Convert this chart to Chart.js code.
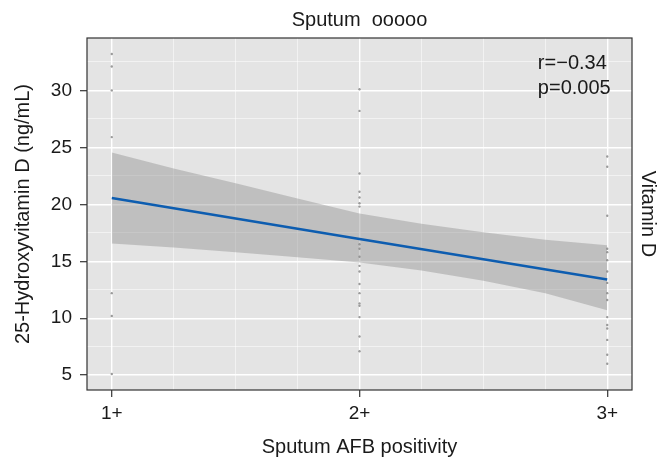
<!DOCTYPE html>
<html>
<head>
<meta charset="utf-8">
<script src="https://cdn.jsdelivr.net/npm/chart.js@4.4.1/dist/chart.umd.min.js"></script>
<style>
    html, body { margin: 0; padding: 0; background: #fff; }
    canvas { display: block; }
</style>
</head>
<body>
<canvas id="chart" width="659" height="459"></canvas>
<script>
// categories on the x axis and where they sit on the numeric scale
const xCategories = ['1+', '2+', '3+'];
const xPositions = [1, 2, 3];

// individual measurements (ng/mL) per AFB grade
const grade1Values = [33.2, 32.1, 30.0, 25.9, 12.2, 10.2, 5.1];
const grade2Values = [30.1, 28.2, 22.7, 21.1, 20.6, 20.1, 19.8, 16.5, 16.1, 15.4, 14.6, 14.1, 13.0, 12.2, 11.3, 11.1, 10.1, 8.4, 7.1];
const grade3Values = [24.2, 23.3, 19.0, 16.1, 15.8, 15.1, 14.1, 13.1, 12.2, 11.6, 10.1, 9.4, 9.1, 8.1, 6.8, 6.0];

// fitted line and its confidence band
const fitX = [1, 2, 3];
const fitY = [20.55, 16.95, 13.4];
const bandX = [1, 1.25, 1.5, 1.75, 2, 2.25, 2.5, 2.75, 3];
const bandUpper = [24.55, 23.15, 21.85, 20.5, 19.2, 18.3, 17.55, 16.9, 16.4];
const bandLower = [16.55, 16.2, 15.8, 15.35, 14.9, 14.2, 13.3, 12.2, 10.7];

// axes
const xRange = [0.9, 3.1];
const yRange = [3.7, 34.6];
const xGridValues = [1, 1.25, 1.5, 1.75, 2, 2.25, 2.5, 2.75, 3];
const yTickValues = [5, 10, 15, 20, 25, 30];
const yGridValues = [5, 7.5, 10, 12.5, 15, 17.5, 20, 22.5, 25, 27.5, 30, 32.5];

// text
const panelTitle = 'Sputum  ooooo';
const stripLabel = 'Vitamin D';
const xTitle = 'Sputum AFB positivity';
const yTitle = '25-Hydroxyvitamin D (ng/mL)';
const statLines = ['r=\u22120.34', 'p=0.005'];
const statAnchorX = 2.72;
const statAnchorY = [31.9, 29.7];

const FONT = "'Liberation Sans', Arial, Helvetica, sans-serif";
const INK = '#1a1a1a';
Chart.defaults.font.family = FONT;
Chart.defaults.color = INK;

const isMajorY = v => yTickValues.includes(v);
const isMajorX = v => xPositions.includes(v);

const points = [grade1Values, grade2Values, grade3Values]
    .flatMap((vals, i) => vals.map(v => ({ x: xPositions[i], y: v })));

const panelPlugin = {
    id: 'panel',
    beforeDraw(chart) {
        const { ctx, chartArea: a } = chart;
        ctx.save();
        ctx.fillStyle = '#e4e4e4';
        ctx.fillRect(a.left, a.top, a.width, a.height);
        ctx.restore();
    },
    afterDraw(chart) {
        const { ctx, chartArea: a, scales } = chart;
        ctx.save();
        ctx.strokeStyle = '#333';
        ctx.lineWidth = 1.2;
        ctx.strokeRect(a.left, a.top, a.width, a.height);
        ctx.fillStyle = INK;
        ctx.font = `20px ${FONT}`;
        ctx.textAlign = 'left';
        ctx.textBaseline = 'alphabetic';
        statLines.forEach((t, i) => {
            ctx.fillText(t, scales.x.getPixelForValue(statAnchorX), scales.y.getPixelForValue(statAnchorY[i]));
        });
        ctx.restore();
    }
};

const gridOpts = isMajor => ({
    color: c => isMajor(c.tick?.value) ? '#ffffff' : 'rgba(255,255,255,0.75)',
    lineWidth: c => isMajor(c.tick?.value) ? 1.4 : 0.7,
    tickColor: c => isMajor(c.tick?.value) ? '#333' : 'rgba(0,0,0,0)',
    tickLength: 7,
    tickWidth: 1.2,
    drawTicks: true
});

new Chart(document.getElementById('chart'), {
    type: 'scatter',
    data: {
        datasets: [
            {
                label: 'fit',
                data: fitX.map((x, i) => ({ x, y: fitY[i] })),
                showLine: true,
                borderColor: '#0d5db0',
                borderWidth: 2.6,
                pointRadius: 0
            },
            {
                label: 'upper',
                data: bandX.map((x, i) => ({ x, y: bandUpper[i] })),
                showLine: true,
                borderWidth: 0,
                borderColor: 'rgba(0,0,0,0)',
                pointRadius: 0,
                fill: '+1',
                backgroundColor: 'rgba(140,140,140,0.42)'
            },
            {
                label: 'lower',
                data: bandX.map((x, i) => ({ x, y: bandLower[i] })),
                showLine: true,
                borderWidth: 0,
                borderColor: 'rgba(0,0,0,0)',
                pointRadius: 0
            },
            {
                label: 'points',
                data: points,
                pointRadius: 1.2,
                borderWidth: 0,
                backgroundColor: '#9a9a9a'
            }
        ]
    },
    options: {
        responsive: false,
        animation: false,
        layout: { padding: 0 },
        plugins: {
            legend: { display: false },
            tooltip: { enabled: false },
            title: {
                display: true,
                text: panelTitle,
                fullSize: false,
                color: INK,
                font: { size: 20, weight: 'normal' },
                padding: { top: 8, bottom: 6 }
            }
        },
        scales: {
            x: {
                type: 'linear',
                min: xRange[0],
                max: xRange[1],
                afterBuildTicks: s => { s.ticks = xGridValues.map(v => ({ value: v })); },
                afterFit: s => { s.height = 69; },
                border: { display: false },
                grid: gridOpts(isMajorX),
                ticks: {
                    autoSkip: false,
                    maxRotation: 0,
                    padding: 5,
                    color: INK,
                    font: { size: 19 },
                    callback: v => { const i = xPositions.indexOf(v); return i >= 0 ? xCategories[i] : ''; }
                },
                title: {
                    display: true,
                    text: xTitle,
                    color: INK,
                    font: { size: 20 },
                    padding: { top: 0, bottom: 0 }
                }
            },
            y: {
                type: 'linear',
                min: yRange[0],
                max: yRange[1],
                afterBuildTicks: s => { s.ticks = yGridValues.map(v => ({ value: v })); },
                afterFit: s => { s.width = 87; },
                border: { display: false },
                grid: gridOpts(isMajorY),
                ticks: {
                    autoSkip: false,
                    padding: 8,
                    color: INK,
                    font: { size: 19 },
                    callback: v => isMajorY(v) ? String(v) : ''
                },
                title: {
                    display: true,
                    text: yTitle,
                    color: INK,
                    font: { size: 20 },
                    padding: { top: 11, bottom: 0 }
                }
            },
            y2: {
                type: 'linear',
                position: 'right',
                min: yRange[0],
                max: yRange[1],
                afterFit: s => { s.width = 27; },
                border: { display: false },
                grid: { display: false, drawTicks: false },
                ticks: { display: false },
                title: {
                    display: true,
                    text: stripLabel,
                    color: INK,
                    font: { size: 20, lineHeight: 1 },
                    padding: { top: 1, bottom: 0 }
                }
            }
        }
    },
    plugins: [panelPlugin]
});
</script>
</body>
</html>
